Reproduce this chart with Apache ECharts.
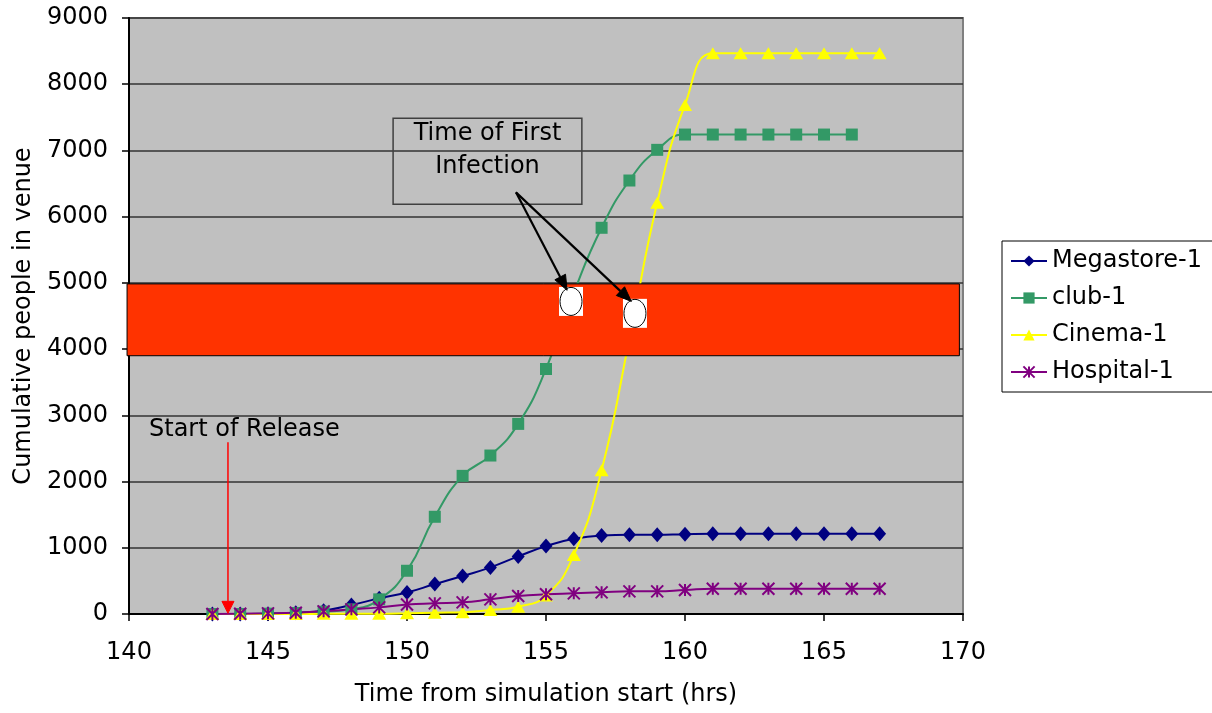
<!DOCTYPE html>
<html>
<head>
<meta charset="utf-8">
<script src="https://cdn.jsdelivr.net/npm/echarts@6/dist/echarts.min.js"></script>
<style>
html,body{margin:0;padding:0;background:#fff;}
#c{width:1212px;height:713px;}
</style>
</head>
<body>
<div id="c"></div>
<script>
// ---- data ----
const hours = [143,144,145,146,147,148,149,150,151,152,153,154,155,156,157,158,159,160,161,162,163,164,165,166,167];
const megastore = [0,0,5,20,50,136,236,325,452,573,704,870,1025,1136,1186,1196,1196,1206,1212,1212,1212,1212,1212,1212,1212];
const club = [0,0,5,15,35,70,221,653,1468,2086,2393,2871,3700,4850,5832,6546,7009,7240,7240,7240,7240,7240,7240,7240];
const cinema = [0,0,0,0,3,5,5,10,20,25,60,110,280,890,2172,4150,6210,7688,8466,8466,8466,8466,8466,8466,8466];
const hospital = [0,5,10,20,40,70,100,143,161,176,221,271,297,312,327,342,342,362,382,382,382,382,382,382,382];
const seriesNames = ['Megastore-1','club-1','Cinema-1','Hospital-1'];
const xTicks = [140,145,150,155,160,165,170];
const yTicks = [0,1000,2000,3000,4000,5000,6000,7000,8000,9000];

// annotations (in data units)
const redBand = [[139.93, 3900, 169.87, 4985]];
const infectionMarks = [[155.9, 4720], [158.2, 4540]];
const calloutBox = [[149.5, 7487, 156.29, 6189]];
const calloutText = ['Time of First', 'Infection'];
const calloutArrows = [[153.92, 6367, 155.76, 4888], [153.92, 6367, 158.07, 4720]];
const releaseLabel = 'Start of Release';
const releaseArrow = [[143.56, 2595, 143.56, 10]];
const releaseLabelPos = [140.72, 2776];

const FONT = 'DejaVu Sans';
const FS = 24;

function pairs(xs, ys){ return ys.map((v,i)=>[xs[i], v]); }

function arrowShape(p0, p1, color, width, headLen, headHalf){
  const dx = p1[0]-p0[0], dy = p1[1]-p0[1];
  const L = Math.sqrt(dx*dx+dy*dy);
  const ux = dx/L, uy = dy/L;
  const bx = p1[0]-ux*headLen, by = p1[1]-uy*headLen;
  const nx = -uy, ny = ux;
  return [
    {type:'line', shape:{x1:p0[0],y1:p0[1],x2:bx,y2:by}, style:{stroke:color, lineWidth:width}},
    {type:'polygon', shape:{points:[[p1[0],p1[1]],[bx+nx*headHalf,by+ny*headHalf],[bx-nx*headHalf,by-ny*headHalf]]}, style:{fill:color, stroke:color, lineWidth:1}}
  ];
}

const chart = echarts.init(document.getElementById('c'), null, {renderer:'canvas'});
const option = {
  animation:false,
  backgroundColor:'#ffffff',
  textStyle:{fontFamily:FONT},
  grid:{left:129, right:249, top:18, bottom:99, show:true, backgroundColor:'#C0C0C0', borderColor:'#808080', borderWidth:2},
  legend:{
    data:seriesNames,
    orient:'vertical',
    left:1002, top:241,
    itemWidth:36, itemHeight:14, itemGap:13,
    padding:[8,60,8,8],
    borderColor:'#000', borderWidth:1,
    backgroundColor:'#fff',
    textStyle:{fontFamily:FONT, fontSize:FS, color:'#000'}
  },
  xAxis:{
    type:'value', min:140, max:170, interval:5,
    name:'Time from simulation start (hrs)', nameLocation:'middle', nameGap:69,
    nameTextStyle:{fontFamily:FONT, fontSize:FS, color:'#000'},
    axisLine:{show:true, onZero:false, lineStyle:{color:'#000', width:2}},
    axisTick:{show:true, inside:false, length:7, lineStyle:{color:'#000', width:1.5}},
    axisLabel:{fontFamily:FONT, fontSize:FS, color:'#000', margin:27, formatter:v=>xTicks.includes(v)?String(v):''},
    splitLine:{show:false}
  },
  yAxis:{
    type:'value', min:0, max:9000, interval:1000,
    name:'Cumulative people in venue', nameLocation:'middle', nameGap:90,
    nameTextStyle:{fontFamily:FONT, fontSize:FS, color:'#000'},
    axisLine:{show:true, lineStyle:{color:'#000', width:2}},
    axisTick:{show:true, inside:false, length:7, lineStyle:{color:'#000', width:1.5}},
    axisLabel:{fontFamily:FONT, fontSize:FS, color:'#000', margin:21, formatter:v=>yTicks.includes(v)?String(v):''},
    splitLine:{show:true, lineStyle:{color:'#333', width:1.5}}
  },
  series:[
    {name:'Megastore-1', type:'line', smooth:true, data:pairs(hours, megastore), z:2,
     symbol:'diamond', symbolSize:[13,15], lineStyle:{color:'#000080', width:2}, itemStyle:{color:'#000080'}},
    {name:'club-1', type:'line', smooth:true, data:pairs(hours, club), z:2,
     symbol:'rect', symbolSize:12, lineStyle:{color:'#339966', width:2}, itemStyle:{color:'#339966'}},
    {name:'Cinema-1', type:'line', smooth:true, data:pairs(hours, cinema), z:2,
     symbol:'triangle', symbolSize:[14,12], lineStyle:{color:'#FFFF00', width:2}, itemStyle:{color:'#FFFF00'}},
    {name:'Hospital-1', type:'line', smooth:true, data:pairs(hours, hospital), z:2,
     symbol:'path://M0,0L10,10M10,0L0,10M5,0L5,10', symbolSize:12,
     lineStyle:{color:'#800080', width:2}, itemStyle:{color:'#800080', borderColor:'#800080', borderWidth:2}},
    // red band
    {type:'custom', z:5, silent:true, data:redBand, encode:{x:[0,2], y:[1,3]},
     renderItem:function(params, api){
       const a = api.coord([api.value(0), api.value(3)]);
       const b = api.coord([api.value(2), api.value(1)]);
       return {type:'rect', shape:{x:a[0], y:a[1], width:b[0]-a[0], height:b[1]-a[1]}, style:{fill:'#FF3300', stroke:'#000', lineWidth:1}};
     }},
    // infection marks (white box with ellipse)
    {type:'custom', z:6, silent:true, data:infectionMarks, encode:{x:0, y:1},
     renderItem:function(params, api){
       const p = api.coord([api.value(0), api.value(1)]);
       return {type:'group', children:[
         {type:'rect', shape:{x:p[0]-12, y:p[1]-14.5, width:24, height:29}, style:{fill:'#fff'}},
         {type:'ellipse', shape:{cx:p[0], cy:p[1], rx:11, ry:14}, style:{fill:'#fff', stroke:'#000', lineWidth:1}}
       ]};
     }},
    // callout box
    {type:'custom', z:7, silent:true, data:calloutBox, encode:{x:[0,2], y:[1,3]},
     renderItem:function(params, api){
       const a = api.coord([api.value(0), api.value(1)]);
       const b = api.coord([api.value(2), api.value(3)]);
       const cx = (a[0]+b[0])/2;
       const f = FS + 'px "DejaVu Sans"';
       return {type:'group', children:[
         {type:'rect', shape:{x:a[0], y:a[1], width:b[0]-a[0], height:b[1]-a[1]}, style:{fill:'none', stroke:'#404040', lineWidth:1.5}},
         {type:'text', style:{x:cx, y:a[1]+16, text:calloutText[0], fill:'#000', font:f, textAlign:'center', textVerticalAlign:'middle'}},
         {type:'text', style:{x:cx, y:a[1]+49, text:calloutText[1], fill:'#000', font:f, textAlign:'center', textVerticalAlign:'middle'}}
       ]};
     }},
    // callout arrows
    {type:'custom', z:8, silent:true, data:calloutArrows, encode:{x:[0,2], y:[1,3]},
     renderItem:function(params, api){
       const p0 = api.coord([api.value(0), api.value(1)]);
       const p1 = api.coord([api.value(2), api.value(3)]);
       return {type:'group', children:arrowShape(p0, p1, '#000', 2.2, 15, 6)};
     }},
    // start of release arrow + label
    {type:'custom', z:8, silent:true, data:releaseArrow, encode:{x:[0,2], y:[1,3]},
     renderItem:function(params, api){
       const p0 = api.coord([api.value(0), api.value(1)]);
       const p1 = api.coord([api.value(2), api.value(3)]);
       const t = api.coord(releaseLabelPos);
       return {type:'group', children:arrowShape(p0, p1, '#FF0000', 1.5, 12, 6).concat([
         {type:'text', style:{x:t[0], y:t[1], text:releaseLabel, fill:'#000', font:FS + 'px "DejaVu Sans"', textAlign:'left', textVerticalAlign:'middle'}}
       ])};
     }}
  ]
};
chart.setOption(option);
</script>
</body>
</html>
